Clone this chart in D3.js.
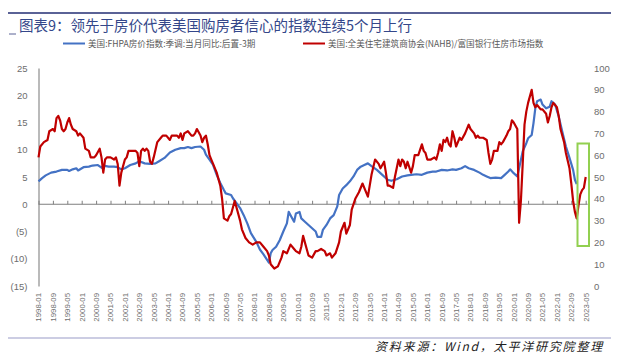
<!DOCTYPE html>
<meta charset="utf-8">
<title>NAHB vs FHFA</title>
<script src="https://d3js.org/d3.v7.min.js"></script>
<style>
  body { margin: 0; background: #fff; }
  text { font-family: "Liberation Sans", Arial, sans-serif; }
  .title { font-family: "Noto Sans CJK SC", sans-serif; font-size: 14.5px; fill: #34478a; }
  .legend { font-family: "Noto Sans CJK SC", sans-serif; font-size: 8.6px; fill: #595959; }
  .source { font-family: "Noto Sans CJK SC", sans-serif; font-size: 12px; font-style: italic; fill: #222; letter-spacing: 1.8px; }
  .ylab { font-size: 9.5px; fill: #6d6d6d; }
  .xlab { font-size: 7.8px; fill: #6d6d6d; }
</style>
<div id="chart"></div>
<script>
// x-axis category labels (every 8 months)
var xLabels = ["1998-01","1998-09","1999-05","2000-01","2000-09","2001-05","2002-01","2002-09",
  "2003-05","2004-01","2004-09","2005-05","2006-01","2006-09","2007-05","2008-01","2008-09",
  "2009-05","2010-01","2010-09","2011-05","2012-01","2012-09","2013-05","2014-01","2014-09",
  "2015-05","2016-01","2016-09","2017-05","2018-01","2018-09","2019-05","2020-01","2020-09",
  "2021-05","2022-01","2022-09","2023-05"];
var leftTicks = [25, 20, 15, 10, 5, 0, -5, -10, -15];
var rightTicks = [0, 10, 20, 30, 40, 50, 60, 70, 80, 90, 100];

// FHFA house price index yoy (%), left axis
var fhfa = [["1998-01",4.2],["1998-03",4.8],["1998-05",5.3],["1998-08",5.8],["1998-11",6.0],
  ["1999-02",6.3],["1999-05",6.3],["1999-06",6.1],["1999-08",6.4],["1999-10",6.6],["1999-11",6.2],
  ["2000-02",6.8],["2000-05",6.9],["2000-07",7.1],["2000-10",7.2],["2000-12",6.7],["2001-01",7.1],
  ["2001-04",6.9],["2001-07",6.9],["2001-09",6.8],["2001-11",6.4],["2002-01",6.6],["2002-04",7.2],
  ["2002-07",7.5],["2002-09",7.9],["2002-12",7.5],["2003-03",7.4],["2003-06",7.5],["2003-08",7.9],
  ["2003-11",8.5],["2004-02",9.5],["2004-05",10.0],["2004-08",10.3],["2004-10",10.3],["2004-12",10.5],
  ["2005-02",10.3],["2005-04",10.5],["2005-07",10.6],["2005-09",10.0],["2005-10",9.1],["2005-12",8.2],
  ["2006-02",7.2],["2006-04",5.4],["2006-06",3.9],["2006-08",2.6],["2006-09",2.0],["2006-12",1.7],
  ["2007-01",1.1],["2007-03",0.2],["2007-05",-0.7],["2007-07",-2.0],["2007-09",-3.5],["2007-11",-5.3],
  ["2008-02",-6.9],["2008-04",-8.3],["2008-06",-9.2],["2008-08",-10.2],["2008-09",-10.7],["2008-10",-9.0],
  ["2008-11",-8.4],["2009-01",-7.8],["2009-03",-6.6],["2009-05",-5.0],["2009-07",-3.5],["2009-08",-1.4],
  ["2009-10",-2.6],["2009-11",-3.2],["2009-12",-1.7],["2010-02",-1.4],["2010-03",-2.6],["2010-05",-3.2],
  ["2010-07",-3.8],["2010-09",-4.4],["2010-11",-5.0],["2010-12",-6.0],["2011-02",-6.0],["2011-03",-4.7],
  ["2011-05",-3.8],["2011-07",-2.6],["2011-09",-2.0],["2011-11",-0.4],["2011-12",1.7],["2012-02",2.9],
  ["2012-04",3.5],["2012-06",4.2],["2012-08",5.1],["2012-10",6.3],["2012-12",6.9],["2013-02",7.2],
  ["2013-04",7.5],["2013-06",7.0],["2013-09",6.3],["2013-12",5.4],["2014-03",4.5],["2014-05",4.3],
  ["2014-08",4.6],["2014-11",5.1],["2015-02",5.3],["2015-04",5.4],["2015-07",5.5],["2015-10",5.4],
  ["2016-01",5.8],["2016-04",6.0],["2016-06",6.0],["2016-09",6.3],["2016-12",6.2],["2017-03",6.4],
  ["2017-05",6.3],["2017-08",6.6],["2017-10",7.0],["2017-12",6.6],["2018-03",6.3],["2018-06",5.8],
  ["2018-08",5.4],["2018-10",5.1],["2018-12",4.8],["2019-03",4.9],["2019-06",4.8],["2019-08",5.4],
  ["2019-10",6.0],["2019-11",6.4],["2020-01",5.7],["2020-03",5.1],["2020-04",6.6],["2020-06",9.7],
  ["2020-08",11.2],["2020-09",12.1],["2020-11",12.7],["2020-12",14.9],["2021-01",17.6],["2021-02",18.9],
  ["2021-04",19.2],["2021-05",18.3],["2021-07",17.6],["2021-09",17.9],["2021-10",18.9],["2021-12",18.3],
  ["2022-02",16.1],["2022-04",13.3],["2022-06",10.6],["2022-08",8.5],["2022-10",6.3],["2022-11",4.5],
  ["2022-12",3.7]];

// NAHB / Wells Fargo housing market index, right axis
var nahb = [["1998-01",59],["1998-02",64],["1998-04",66],["1998-06",67],["1998-07",71],["1998-09",72],
  ["1998-10",71],["1998-11",77],["1998-12",78],["1999-01",76],["1999-02",72],["1999-03",71],["1999-04",72],
  ["1999-05",75],["1999-06",77],["1999-07",74],["1999-08",72],["1999-10",71],["1999-11",69],["1999-12",70],
  ["2000-02",68],["2000-03",63],["2000-05",62],["2000-06",59],["2000-08",59],["2000-09",60],["2000-11",63],
  ["2000-12",59],["2001-01",52],["2001-02",58],["2001-03",59],["2001-05",59],["2001-07",58],["2001-08",59],
  ["2001-09",56],["2001-10",46],["2001-11",52],["2002-01",58],["2002-02",59],["2002-03",62],["2002-05",62],
  ["2002-07",62],["2002-08",61],["2002-09",55],["2002-10",62],["2002-11",63],["2002-12",62],["2003-01",63],
  ["2003-02",62],["2003-03",57],["2003-04",56],["2003-05",59],["2003-07",66],["2003-09",68],["2003-10",69],
  ["2003-12",69],["2004-02",67],["2004-03",69],["2004-04",69],["2004-06",69],["2004-07",68],["2004-08",70],
  ["2004-09",67],["2004-10",70],["2004-12",71],["2005-02",69],["2005-03",69],["2005-04",70],["2005-05",72],
  ["2005-07",69],["2005-08",66],["2005-09",68],["2005-10",69],["2005-11",65],["2005-12",60],["2006-01",58],
  ["2006-02",56],["2006-04",52],["2006-06",46],["2006-07",40],["2006-08",31],["2006-10",30],["2006-11",32],
  ["2006-12",33],["2007-01",36],["2007-02",39],["2007-03",36],["2007-05",30],["2007-06",26],["2007-08",22],
  ["2007-10",20],["2007-12",19],["2008-02",20],["2008-04",20],["2008-06",18],["2008-08",16],["2008-09",14],
  ["2008-10",10],["2008-12",8],["2009-02",9],["2009-04",13],["2009-05",16],["2009-07",15],["2009-09",19],
  ["2009-11",17],["2009-12",16],["2010-02",15],["2010-03",18],["2010-04",23],["2010-06",17],["2010-07",14],
  ["2010-09",13],["2010-11",16],["2010-12",16],["2011-02",17],["2011-04",16],["2011-05",14],["2011-07",15],
  ["2011-08",13],["2011-10",15],["2011-12",20],["2012-01",25],["2012-03",29],["2012-04",24],["2012-06",28],
  ["2012-07",35],["2012-09",40],["2012-11",43],["2013-01",47],["2013-02",45],["2013-04",41],["2013-06",51],
  ["2013-08",58],["2013-10",56],["2013-11",54],["2014-01",57],["2014-02",52],["2014-03",46],["2014-04",46],
  ["2014-06",45],["2014-07",50],["2014-09",58],["2014-10",55],["2014-11",58],["2014-12",57],["2015-01",54],
  ["2015-02",57],["2015-04",52],["2015-05",55],["2015-06",60],["2015-08",60],["2015-10",65],["2015-11",62],
  ["2015-12",61],["2016-01",58],["2016-03",58],["2016-05",59],["2016-06",58],["2016-07",61],["2016-08",65],
  ["2016-09",62],["2016-10",67],["2016-11",66],["2016-12",68],["2017-01",65],["2017-02",64],["2017-03",71],
  ["2017-04",68],["2017-05",64],["2017-06",66],["2017-07",68],["2017-08",67],["2017-10",70],["2017-12",74],
  ["2018-01",72],["2018-03",70],["2018-04",68],["2018-05",69],["2018-06",68],["2018-08",68],["2018-10",67],
  ["2018-11",61],["2018-12",56],["2019-01",58],["2019-02",62],["2019-04",62],["2019-05",66],["2019-06",65],
  ["2019-07",66],["2019-09",69],["2019-10",71],["2019-11",72],["2019-12",76],["2020-01",75],["2020-03",72],
  ["2020-04",29],["2020-05",39],["2020-06",56],["2020-07",74],["2020-08",80],["2020-09",84],["2020-11",90],
  ["2020-12",84],["2021-01",82],["2021-02",83],["2021-04",81],["2021-05",81],["2021-07",79],["2021-08",75],
  ["2021-09",78],["2021-10",82],["2021-11",84],["2022-01",82],["2022-02",78],["2022-03",72],["2022-05",66],
  ["2022-06",61],["2022-08",54],["2022-09",47],["2022-10",39],["2022-11",34],["2022-12",31],["2023-01",37],
  ["2023-02",42],["2023-03",44],["2023-04",45],["2023-05",50]];

var W = 617, H = 353;
var svg = d3.select("#chart").append("svg").attr("width", W).attr("height", H);

function monthIndex(s) {
  var p = s.split("-");
  return (+p[0] - 1998) * 12 + (+p[1] - 1);
}

var x = d3.scaleLinear().domain([0, 304]).range([38.5, 585.7]);
var yL = d3.scaleLinear().domain([-15, 25]).range([286, 68]);
var yR = d3.scaleLinear().domain([0, 100]).range([286, 68]);

// header
svg.append("line").attr("x1", 8).attr("x2", 611).attr("y1", 13).attr("y2", 13)
  .attr("stroke", "#5a6296").attr("stroke-width", 2.2);
svg.append("text").attr("class", "title").attr("x", 19).attr("y", 31)
  .text("图表9：领先于房价代表美国购房者信心的指数连续5个月上行");
svg.append("line").attr("x1", 9).attr("x2", 16).attr("y1", 34).attr("y2", 34)
  .attr("stroke", "#5a6296").attr("stroke-width", 1);

// legend
svg.append("line").attr("x1", 63).attr("x2", 85).attr("y1", 43.5).attr("y2", 43.5)
  .attr("stroke", "#4472c4").attr("stroke-width", 2);
svg.append("text").attr("class", "legend").attr("x", 88).attr("y", 46.5)
  .text("美国:FHPA房价指数:季调:当月同比:后置-3期");
svg.append("line").attr("x1", 303).attr("x2", 325).attr("y1", 43.5).attr("y2", 43.5)
  .attr("stroke", "#c00000").attr("stroke-width", 2);
svg.append("text").attr("class", "legend").attr("x", 328).attr("y", 46.5)
  .text("美国:全美住宅建筑商协会(NAHB)/富国银行住房市场指数");

// left axis
var fmtL = function(d) { return d < 0 ? "(" + (-d) + ")" : d; };
var gL = svg.append("g").attr("transform", "translate(38.5,0)")
  .call(d3.axisLeft(yL).tickValues(leftTicks).tickSize(0).tickPadding(11).tickFormat(fmtL));
gL.select(".domain").attr("stroke", "#8c8c8c").attr("stroke-width", 1.2);
gL.selectAll("text").attr("class", "ylab").style("font-family", "Liberation Sans, Arial, sans-serif")
  .attr("fill", function(d) { return d < 0 ? "#ff2a2a" : "#6d6d6d"; });

// right axis
var gR = svg.append("g").attr("transform", "translate(594,0)")
  .call(d3.axisRight(yR).tickValues(rightTicks).tickSize(0).tickPadding(0));
gR.select(".domain").remove();
gR.selectAll("text").attr("class", "ylab").attr("fill", "#6d6d6d");

// zero line with tick marks
var tickMonths = xLabels.map(monthIndex);
var gX = svg.append("g").attr("transform", "translate(0," + yL(0) + ")")
  .call(d3.axisTop(x).tickValues(tickMonths).tickSize(3.5).tickSizeOuter(0).tickFormat(""));
gX.select(".domain").attr("d", "M" + x(0) + ",0H" + (x(304) + 2)).attr("stroke", "#7f7f7f");
gX.selectAll(".tick line").attr("stroke", "#7f7f7f");

// rotated category labels
svg.append("g").selectAll("text").data(xLabels).enter().append("text")
  .attr("class", "xlab")
  .attr("text-anchor", "end")
  .attr("transform", function(d) { return "translate(" + (x(monthIndex(d)) + 2.8) + ",293) rotate(-90)"; })
  .text(function(d) { return d; });

// lines
var lineL = d3.line().x(function(d) { return x(monthIndex(d[0])); }).y(function(d) { return yL(d[1]); });
var lineR = d3.line().x(function(d) { return x(monthIndex(d[0])); }).y(function(d) { return yR(d[1]); });

svg.append("path").datum(fhfa).attr("d", lineL).attr("fill", "none")
  .attr("stroke", "#4472c4").attr("stroke-width", 2.2).attr("stroke-linejoin", "round");
svg.append("path").datum(nahb).attr("d", lineR).attr("fill", "none")
  .attr("stroke", "#c00000").attr("stroke-width", 2.2).attr("stroke-linejoin", "round");

// highlight box
svg.append("rect").attr("x", 577.5).attr("y", 143.5).attr("width", 11.5).attr("height", 102.5)
  .attr("fill", "none").attr("stroke", "#92d050").attr("stroke-width", 2);

// footer
svg.append("line").attr("x1", 8).attr("x2", 611).attr("y1", 338).attr("y2", 338)
  .attr("stroke", "#9a9cc8").attr("stroke-width", 1.2);
svg.append("text").attr("class", "source").attr("x", 604).attr("y", 351).attr("text-anchor", "end")
  .text("资料来源：Wind，太平洋研究院整理");
</script>
